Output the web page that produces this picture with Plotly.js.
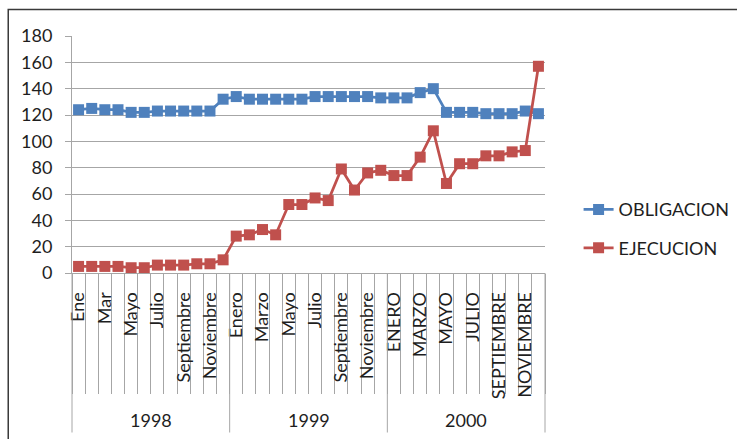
<!DOCTYPE html>
<html>
<head>
<meta charset="utf-8">
<script src="https://cdn.plot.ly/plotly-3.0.1.min.js"></script>
<style>
  html, body { margin: 0; padding: 0; background: #fff; }
  #chart { width: 737px; height: 439px; }
</style>
</head>
<body>
<div id="chart"></div>
<script>
// Monthly series, January 1998 to December 2000
const years = ["1998", "1999", "2000"];
const monthLabels1998 = ["Ene", "", "Mar", "", "Mayo", "", "Julio", "", "Septiembre", "", "Noviembre", ""];
const monthLabels1999 = ["Enero", "", "Marzo", "", "Mayo", "", "Julio", "", "Septiembre", "", "Noviembre", ""];
const monthLabels2000 = ["ENERO", "", "MARZO", "", "MAYO", "", "JULIO", "", "SEPTIEMBRE", "", "NOVIEMBRE", ""];

const obligacion = [124, 125, 124, 124, 122, 122, 123, 123, 123, 123, 123, 132,
                    134, 132, 132, 132, 132, 132, 134, 134, 134, 134, 134, 133,
                    133, 133, 137, 140, 122, 122, 122, 121, 121, 121, 123, 121];
const ejecucion  = [5, 5, 5, 5, 4, 4, 6, 6, 6, 7, 7, 10,
                    28, 29, 33, 29, 52, 52, 57, 55, 79, 63, 76, 78,
                    74, 74, 88, 108, 68, 83, 83, 89, 89, 92, 93, 157];

const monthLabels = monthLabels1998.concat(monthLabels1999, monthLabels2000);
const idx = monthLabels.map((_, i) => i);
const perYear = monthLabels1998.length;
const n = monthLabels.length;

const FONT = "Lato, 'Open Sans', sans-serif";
const FS = 18;
const TXT = "#1e1e1e";
const GRID = "#a6a6a6";

const traces = [
  {
    name: "OBLIGACION", x: idx, y: obligacion, type: "scatter", mode: "lines+markers",
    line: { color: "#4f81bd", width: 2.75 },
    marker: { symbol: "square", size: 11, color: "#4f81bd" },
    legendgroup: "a"
  },
  {
    name: "EJECUCION", x: idx, y: ejecucion, type: "scatter", mode: "lines+markers",
    line: { color: "#c0504d", width: 2.75 },
    marker: { symbol: "square", size: 11, color: "#c0504d" },
    legendgroup: "b"
  }
];

// category boundaries (minor ticks) and year separators
const boundaries = [];
for (let b = 0; b <= n; b++) boundaries.push(b - 0.5);

const shapes = [];
for (let k = 0; k <= years.length; k++) {
  const xp = (k * perYear) / n;
  shapes.push({ type: "line", xref: "paper", yref: "paper", x0: xp, x1: xp, y0: 0, y1: -0.673,
                line: { color: GRID, width: 1 } });
}
// outer frame
shapes.push({ type: "rect", xref: "paper", yref: "paper", x0: -0.1348, x1: 1.6, y0: 1.1117, y1: -1,
              line: { color: "#3a3a3a", width: 1.5 } });

const annotations = years.map((yr, k) => ({
  text: yr, xref: "x", yref: "paper", x: k * perYear + (perYear - 1) / 2, y: -0.62,
  showarrow: false, xanchor: "center", yanchor: "middle",
  font: { family: FONT, size: FS, color: TXT }
}));

const layout = {
  width: 737, height: 439,
  margin: { l: 72.3, r: 191.7, t: 36, b: 165.7, autoexpand: false },
  paper_bgcolor: "#fff", plot_bgcolor: "#fff",
  showlegend: true,
  legend: {
    x: 1.071, y: 0.345, xanchor: "left", yanchor: "top",
    font: { family: FONT, size: FS, color: TXT },
    tracegroupgap: 12, traceorder: "grouped", bgcolor: "rgba(0,0,0,0)"
  },
  xaxis: {
    range: [-0.5, n - 0.5], tickmode: "array", tickvals: idx, ticktext: monthLabels,
    tickangle: -90, ticks: "", showgrid: false, zeroline: false,
    showline: true, linecolor: GRID, linewidth: 1,
    ticklabelstandoff: 11, automargin: false,
    tickfont: { family: FONT, size: FS, color: TXT },
    minor: { tickmode: "array", tickvals: boundaries, ticks: "outside", ticklen: 120,
             tickcolor: GRID, tickwidth: 1, showgrid: false },
    fixedrange: true
  },
  yaxis: {
    range: [0, 180], dtick: 20, tick0: 0, showgrid: true, gridcolor: GRID, gridwidth: 1,
    zeroline: false, showline: true, linecolor: GRID, linewidth: 1,
    ticks: "outside", ticklen: 6, tickcolor: GRID, ticklabelstandoff: 9, automargin: false,
    tickfont: { family: FONT, size: FS, color: TXT },
    fixedrange: true
  },
  shapes: shapes,
  annotations: annotations
};

Plotly.newPlot("chart", traces, layout, { displayModeBar: false, staticPlot: true });
</script>
</body>
</html>
